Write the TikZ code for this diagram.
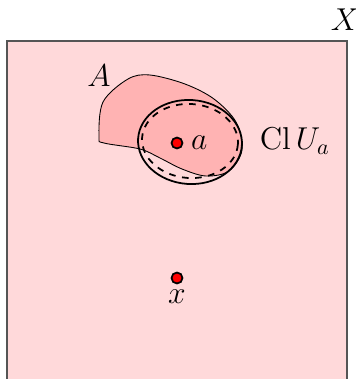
\documentclass[tikz,border=0pt]{standalone}
\usepackage{amsmath, amssymb}
\usetikzlibrary{positioning}
\definecolor{spacePink}{HTML}{FFD9DA}
\definecolor{setRed}{HTML}{FFB3B3}
\definecolor{frameGray}{HTML}{555555}

\begin{document}
\begin{tikzpicture}[x=0.016cm, y=-0.016cm,
    every node/.style={font=\fontsize{14}{16}\selectfont},
    pt/.style={circle, draw, fill=red, line width=0.8pt, inner sep=0pt, minimum size=5pt}]
    \clip (0,0) rectangle (356,379);
    % the space X
    \draw[frameGray, line width=0.5pt, fill=spacePink] (7,41) rectangle (347,420);
    \node (X) at (345,20) {$X$};
    % the set A
    \draw[fill=setRed, line width=0.4pt] plot[smooth cycle, tension=0.55] coordinates {
      (99,137) (103,102) (128,79) (150,75) (185,84) (214,99) (236,122)
      (242,150) (229,171) (206,176) (182,169) (160,158) (140,149) (104,143)};
    \node (A) at (99,76) {$A$};
    % closure of U_a and U_a
    \draw[thick, rotate around={-4:(190,142)}] (190,142) ellipse [x radius=52, y radius=42];
    \draw[thick, dashed, rotate around={-4:(190,141)}] (190,141) ellipse [x radius=48, y radius=37];
    \node[right] (ClU) at (252,141) {$\operatorname{Cl} U_a$};
    % points
    \node[pt] (a) at (177,143) {};
    \node[right=0pt of a] (alab) {$a$};
    \node[pt] (x) at (177,278) {};
    \node[below=-1pt of x] (xlab) {$x$};
\end{tikzpicture}
\end{document}
